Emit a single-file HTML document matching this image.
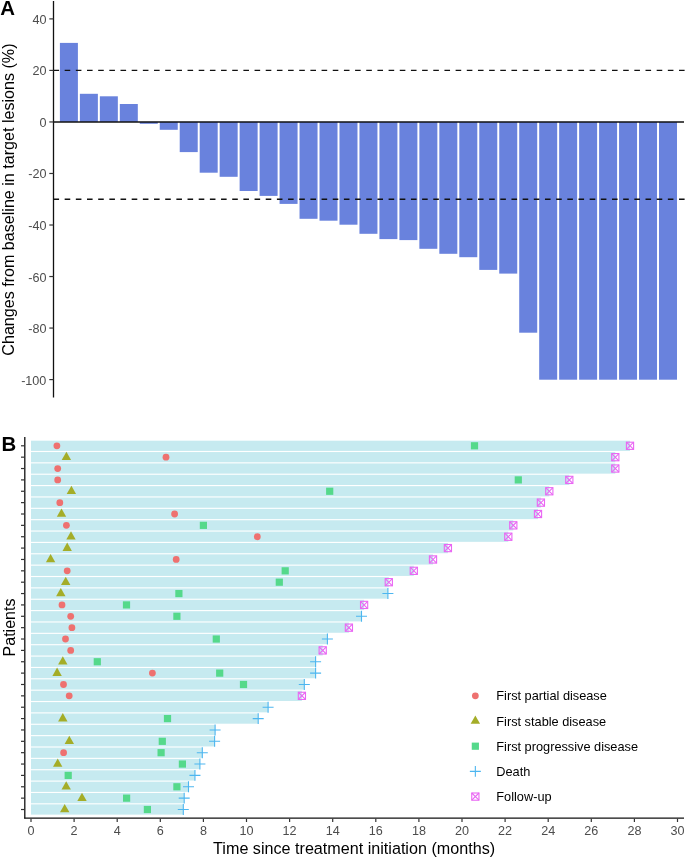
<!DOCTYPE html><html><head><meta charset="utf-8"><style>html,body{margin:0;padding:0;background:#fff;}svg{display:block;will-change:transform;}text{font-family:"Liberation Sans",sans-serif;}</style></head><body>
<svg width="685" height="858" viewBox="0 0 685 858">
<rect width="685" height="858" fill="#fff"/>
<rect x="59.90" y="42.90" width="18.0" height="79.05" fill="#6982DD"/>
<rect x="79.87" y="93.80" width="18.0" height="28.15" fill="#6982DD"/>
<rect x="99.84" y="96.30" width="18.0" height="25.65" fill="#6982DD"/>
<rect x="119.81" y="104.00" width="18.0" height="17.95" fill="#6982DD"/>
<rect x="139.78" y="121.95" width="18.0" height="1.85" fill="#6982DD"/>
<rect x="159.75" y="121.95" width="18.0" height="7.85" fill="#6982DD"/>
<rect x="179.72" y="121.95" width="18.0" height="30.15" fill="#6982DD"/>
<rect x="199.69" y="121.95" width="18.0" height="50.75" fill="#6982DD"/>
<rect x="219.66" y="121.95" width="18.0" height="54.85" fill="#6982DD"/>
<rect x="239.63" y="121.95" width="18.0" height="69.05" fill="#6982DD"/>
<rect x="259.60" y="121.95" width="18.0" height="73.95" fill="#6982DD"/>
<rect x="279.57" y="121.95" width="18.0" height="81.95" fill="#6982DD"/>
<rect x="299.54" y="121.95" width="18.0" height="96.85" fill="#6982DD"/>
<rect x="319.51" y="121.95" width="18.0" height="98.75" fill="#6982DD"/>
<rect x="339.48" y="121.95" width="18.0" height="102.75" fill="#6982DD"/>
<rect x="359.45" y="121.95" width="18.0" height="111.85" fill="#6982DD"/>
<rect x="379.42" y="121.95" width="18.0" height="117.15" fill="#6982DD"/>
<rect x="399.39" y="121.95" width="18.0" height="118.15" fill="#6982DD"/>
<rect x="419.36" y="121.95" width="18.0" height="126.85" fill="#6982DD"/>
<rect x="439.33" y="121.95" width="18.0" height="131.85" fill="#6982DD"/>
<rect x="459.30" y="121.95" width="18.0" height="135.25" fill="#6982DD"/>
<rect x="479.27" y="121.95" width="18.0" height="147.95" fill="#6982DD"/>
<rect x="499.24" y="121.95" width="18.0" height="151.65" fill="#6982DD"/>
<rect x="519.21" y="121.95" width="18.0" height="210.75" fill="#6982DD"/>
<rect x="539.18" y="121.95" width="18.0" height="257.75" fill="#6982DD"/>
<rect x="559.15" y="121.95" width="18.0" height="257.75" fill="#6982DD"/>
<rect x="579.12" y="121.95" width="18.0" height="257.75" fill="#6982DD"/>
<rect x="599.09" y="121.95" width="18.0" height="257.75" fill="#6982DD"/>
<rect x="619.06" y="121.95" width="18.0" height="257.75" fill="#6982DD"/>
<rect x="639.03" y="121.95" width="18.0" height="257.75" fill="#6982DD"/>
<rect x="659.00" y="121.95" width="18.0" height="257.75" fill="#6982DD"/>
<line x1="53.5" y1="122.05" x2="684" y2="122.05" stroke="#111" stroke-width="1.6"/>
<line x1="53.5" y1="70.42" x2="685" y2="70.42" stroke="#111" stroke-width="1.3" stroke-dasharray="5.585 5.585"/>
<line x1="53.5" y1="199.24" x2="685" y2="199.24" stroke="#111" stroke-width="1.3" stroke-dasharray="5.585 5.585"/>
<line x1="53.5" y1="1" x2="53.5" y2="397.4" stroke="#111" stroke-width="1.3"/>
<line x1="49.3" y1="18.89" x2="53.5" y2="18.89" stroke="#333" stroke-width="1.2"/>
<text x="46.4" y="23.89" font-size="12.6" fill="#4D4D4D" text-anchor="end">40</text>
<line x1="49.3" y1="70.42" x2="53.5" y2="70.42" stroke="#333" stroke-width="1.2"/>
<text x="46.4" y="75.42" font-size="12.6" fill="#4D4D4D" text-anchor="end">20</text>
<line x1="49.3" y1="121.95" x2="53.5" y2="121.95" stroke="#333" stroke-width="1.2"/>
<text x="46.4" y="126.95" font-size="12.6" fill="#4D4D4D" text-anchor="end">0</text>
<line x1="49.3" y1="173.48" x2="53.5" y2="173.48" stroke="#333" stroke-width="1.2"/>
<text x="46.4" y="178.48" font-size="12.6" fill="#4D4D4D" text-anchor="end">-20</text>
<line x1="49.3" y1="225.01" x2="53.5" y2="225.01" stroke="#333" stroke-width="1.2"/>
<text x="46.4" y="230.01" font-size="12.6" fill="#4D4D4D" text-anchor="end">-40</text>
<line x1="49.3" y1="276.53" x2="53.5" y2="276.53" stroke="#333" stroke-width="1.2"/>
<text x="46.4" y="281.53" font-size="12.6" fill="#4D4D4D" text-anchor="end">-60</text>
<line x1="49.3" y1="328.06" x2="53.5" y2="328.06" stroke="#333" stroke-width="1.2"/>
<text x="46.4" y="333.06" font-size="12.6" fill="#4D4D4D" text-anchor="end">-80</text>
<line x1="49.3" y1="379.59" x2="53.5" y2="379.59" stroke="#333" stroke-width="1.2"/>
<text x="46.4" y="384.59" font-size="12.6" fill="#4D4D4D" text-anchor="end">-100</text>
<text transform="translate(14.2,199.6) rotate(-90)" font-size="16.1" fill="#000" text-anchor="middle">Changes from baseline in target lesions (%)</text>
<text x="0.2" y="15.2" font-size="20.4" font-weight="bold" fill="#000">A</text>
<rect x="31.0" y="440.69" width="599.00" height="10.23" fill="#C6EAF0"/>
<rect x="31.0" y="452.05" width="584.30" height="10.23" fill="#C6EAF0"/>
<rect x="31.0" y="463.42" width="584.30" height="10.23" fill="#C6EAF0"/>
<rect x="31.0" y="474.78" width="538.30" height="10.23" fill="#C6EAF0"/>
<rect x="31.0" y="486.15" width="518.30" height="10.23" fill="#C6EAF0"/>
<rect x="31.0" y="497.51" width="509.90" height="10.23" fill="#C6EAF0"/>
<rect x="31.0" y="508.88" width="507.00" height="10.23" fill="#C6EAF0"/>
<rect x="31.0" y="520.25" width="482.30" height="10.23" fill="#C6EAF0"/>
<rect x="31.0" y="531.61" width="477.30" height="10.23" fill="#C6EAF0"/>
<rect x="31.0" y="542.98" width="416.90" height="10.23" fill="#C6EAF0"/>
<rect x="31.0" y="554.35" width="402.00" height="10.23" fill="#C6EAF0"/>
<rect x="31.0" y="565.71" width="382.80" height="10.23" fill="#C6EAF0"/>
<rect x="31.0" y="577.08" width="357.80" height="10.23" fill="#C6EAF0"/>
<rect x="31.0" y="588.44" width="356.90" height="10.23" fill="#C6EAF0"/>
<rect x="31.0" y="599.81" width="333.10" height="10.23" fill="#C6EAF0"/>
<rect x="31.0" y="611.17" width="330.50" height="10.23" fill="#C6EAF0"/>
<rect x="31.0" y="622.54" width="317.90" height="10.23" fill="#C6EAF0"/>
<rect x="31.0" y="633.91" width="296.40" height="10.23" fill="#C6EAF0"/>
<rect x="31.0" y="645.27" width="291.70" height="10.23" fill="#C6EAF0"/>
<rect x="31.0" y="656.64" width="284.60" height="10.23" fill="#C6EAF0"/>
<rect x="31.0" y="668.00" width="284.60" height="10.23" fill="#C6EAF0"/>
<rect x="31.0" y="679.37" width="273.30" height="10.23" fill="#C6EAF0"/>
<rect x="31.0" y="690.74" width="270.90" height="10.23" fill="#C6EAF0"/>
<rect x="31.0" y="702.10" width="237.10" height="10.23" fill="#C6EAF0"/>
<rect x="31.0" y="713.47" width="227.20" height="10.23" fill="#C6EAF0"/>
<rect x="31.0" y="724.84" width="184.10" height="10.23" fill="#C6EAF0"/>
<rect x="31.0" y="736.20" width="183.60" height="10.23" fill="#C6EAF0"/>
<rect x="31.0" y="747.57" width="171.30" height="10.23" fill="#C6EAF0"/>
<rect x="31.0" y="758.93" width="168.90" height="10.23" fill="#C6EAF0"/>
<rect x="31.0" y="770.30" width="163.95" height="10.23" fill="#C6EAF0"/>
<rect x="31.0" y="781.66" width="157.50" height="10.23" fill="#C6EAF0"/>
<rect x="31.0" y="793.03" width="153.20" height="10.23" fill="#C6EAF0"/>
<rect x="31.0" y="804.40" width="152.30" height="10.23" fill="#C6EAF0"/>
<circle cx="56.90" cy="445.80" r="3.4" fill="#EE7170"/>
<rect x="470.90" y="442.20" width="7.2" height="7.2" fill="#55D98B"/>
<g stroke="#E967F3" stroke-width="1.1" fill="none"><rect x="626.40" y="442.20" width="7.2" height="7.2"/><path d="M626.40 442.20L633.60 449.40M633.60 442.20L626.40 449.40"/></g>
<polygon points="61.70,459.97 71.10,459.97 66.40,451.67" fill="#A4AD28"/>
<circle cx="166.00" cy="457.17" r="3.4" fill="#EE7170"/>
<g stroke="#E967F3" stroke-width="1.1" fill="none"><rect x="611.70" y="453.57" width="7.2" height="7.2"/><path d="M611.70 453.57L618.90 460.77M618.90 453.57L611.70 460.77"/></g>
<circle cx="57.70" cy="468.53" r="3.4" fill="#EE7170"/>
<g stroke="#E967F3" stroke-width="1.1" fill="none"><rect x="611.70" y="464.93" width="7.2" height="7.2"/><path d="M611.70 464.93L618.90 472.13M618.90 464.93L611.70 472.13"/></g>
<circle cx="57.70" cy="479.90" r="3.4" fill="#EE7170"/>
<rect x="514.70" y="476.30" width="7.2" height="7.2" fill="#55D98B"/>
<g stroke="#E967F3" stroke-width="1.1" fill="none"><rect x="565.70" y="476.30" width="7.2" height="7.2"/><path d="M565.70 476.30L572.90 483.50M572.90 476.30L565.70 483.50"/></g>
<polygon points="66.70,494.06 76.10,494.06 71.40,485.76" fill="#A4AD28"/>
<rect x="326.10" y="487.66" width="7.2" height="7.2" fill="#55D98B"/>
<g stroke="#E967F3" stroke-width="1.1" fill="none"><rect x="545.70" y="487.66" width="7.2" height="7.2"/><path d="M545.70 487.66L552.90 494.86M552.90 487.66L545.70 494.86"/></g>
<circle cx="59.80" cy="502.63" r="3.4" fill="#EE7170"/>
<g stroke="#E967F3" stroke-width="1.1" fill="none"><rect x="537.30" y="499.03" width="7.2" height="7.2"/><path d="M537.30 499.03L544.50 506.23M544.50 499.03L537.30 506.23"/></g>
<polygon points="56.80,516.80 66.20,516.80 61.50,508.50" fill="#A4AD28"/>
<circle cx="174.60" cy="514.00" r="3.4" fill="#EE7170"/>
<g stroke="#E967F3" stroke-width="1.1" fill="none"><rect x="534.40" y="510.40" width="7.2" height="7.2"/><path d="M534.40 510.40L541.60 517.60M541.60 510.40L534.40 517.60"/></g>
<circle cx="66.40" cy="525.36" r="3.4" fill="#EE7170"/>
<rect x="199.80" y="521.76" width="7.2" height="7.2" fill="#55D98B"/>
<g stroke="#E967F3" stroke-width="1.1" fill="none"><rect x="509.70" y="521.76" width="7.2" height="7.2"/><path d="M509.70 521.76L516.90 528.96M516.90 521.76L509.70 528.96"/></g>
<polygon points="66.30,539.53 75.70,539.53 71.00,531.23" fill="#A4AD28"/>
<circle cx="257.30" cy="536.73" r="3.4" fill="#EE7170"/>
<g stroke="#E967F3" stroke-width="1.1" fill="none"><rect x="504.70" y="533.13" width="7.2" height="7.2"/><path d="M504.70 533.13L511.90 540.33M511.90 533.13L504.70 540.33"/></g>
<polygon points="62.50,550.89 71.90,550.89 67.20,542.59" fill="#A4AD28"/>
<g stroke="#E967F3" stroke-width="1.1" fill="none"><rect x="444.30" y="544.49" width="7.2" height="7.2"/><path d="M444.30 544.49L451.50 551.69M451.50 544.49L444.30 551.69"/></g>
<polygon points="45.90,562.26 55.30,562.26 50.60,553.96" fill="#A4AD28"/>
<circle cx="176.20" cy="559.46" r="3.4" fill="#EE7170"/>
<g stroke="#E967F3" stroke-width="1.1" fill="none"><rect x="429.40" y="555.86" width="7.2" height="7.2"/><path d="M429.40 555.86L436.60 563.06M436.60 555.86L429.40 563.06"/></g>
<circle cx="67.20" cy="570.83" r="3.4" fill="#EE7170"/>
<rect x="281.60" y="567.23" width="7.2" height="7.2" fill="#55D98B"/>
<g stroke="#E967F3" stroke-width="1.1" fill="none"><rect x="410.20" y="567.23" width="7.2" height="7.2"/><path d="M410.20 567.23L417.40 574.43M417.40 567.23L410.20 574.43"/></g>
<polygon points="61.00,584.99 70.40,584.99 65.70,576.69" fill="#A4AD28"/>
<rect x="275.70" y="578.59" width="7.2" height="7.2" fill="#55D98B"/>
<g stroke="#E967F3" stroke-width="1.1" fill="none"><rect x="385.20" y="578.59" width="7.2" height="7.2"/><path d="M385.20 578.59L392.40 585.79M392.40 578.59L385.20 585.79"/></g>
<polygon points="56.10,596.36 65.50,596.36 60.80,588.06" fill="#A4AD28"/>
<rect x="175.30" y="589.96" width="7.2" height="7.2" fill="#55D98B"/>
<path d="M382.40 593.56H393.40M387.90 588.11V599.01" stroke="#4DB6F0" stroke-width="1.1" fill="none"/>
<circle cx="62.00" cy="604.92" r="3.4" fill="#EE7170"/>
<rect x="122.90" y="601.32" width="7.2" height="7.2" fill="#55D98B"/>
<g stroke="#E967F3" stroke-width="1.1" fill="none"><rect x="360.50" y="601.32" width="7.2" height="7.2"/><path d="M360.50 601.32L367.70 608.52M367.70 601.32L360.50 608.52"/></g>
<circle cx="70.70" cy="616.29" r="3.4" fill="#EE7170"/>
<rect x="173.30" y="612.69" width="7.2" height="7.2" fill="#55D98B"/>
<path d="M356.00 616.29H367.00M361.50 610.84V621.74" stroke="#4DB6F0" stroke-width="1.1" fill="none"/>
<circle cx="71.90" cy="627.66" r="3.4" fill="#EE7170"/>
<g stroke="#E967F3" stroke-width="1.1" fill="none"><rect x="345.30" y="624.06" width="7.2" height="7.2"/><path d="M345.30 624.06L352.50 631.26M352.50 624.06L345.30 631.26"/></g>
<circle cx="65.50" cy="639.02" r="3.4" fill="#EE7170"/>
<rect x="212.70" y="635.42" width="7.2" height="7.2" fill="#55D98B"/>
<path d="M321.90 639.02H332.90M327.40 633.57V644.47" stroke="#4DB6F0" stroke-width="1.1" fill="none"/>
<circle cx="70.70" cy="650.39" r="3.4" fill="#EE7170"/>
<g stroke="#E967F3" stroke-width="1.1" fill="none"><rect x="319.10" y="646.79" width="7.2" height="7.2"/><path d="M319.10 646.79L326.30 653.99M326.30 646.79L319.10 653.99"/></g>
<polygon points="58.10,664.55 67.50,664.55 62.80,656.25" fill="#A4AD28"/>
<rect x="93.70" y="658.15" width="7.2" height="7.2" fill="#55D98B"/>
<path d="M310.10 661.75H321.10M315.60 656.30V667.20" stroke="#4DB6F0" stroke-width="1.1" fill="none"/>
<polygon points="52.40,675.92 61.80,675.92 57.10,667.62" fill="#A4AD28"/>
<circle cx="152.40" cy="673.12" r="3.4" fill="#EE7170"/>
<rect x="216.10" y="669.52" width="7.2" height="7.2" fill="#55D98B"/>
<path d="M310.10 673.12H321.10M315.60 667.67V678.57" stroke="#4DB6F0" stroke-width="1.1" fill="none"/>
<circle cx="63.50" cy="684.49" r="3.4" fill="#EE7170"/>
<rect x="239.90" y="680.89" width="7.2" height="7.2" fill="#55D98B"/>
<path d="M298.80 684.49H309.80M304.30 679.04V689.94" stroke="#4DB6F0" stroke-width="1.1" fill="none"/>
<circle cx="69.20" cy="695.85" r="3.4" fill="#EE7170"/>
<g stroke="#E967F3" stroke-width="1.1" fill="none"><rect x="298.30" y="692.25" width="7.2" height="7.2"/><path d="M298.30 692.25L305.50 699.45M305.50 692.25L298.30 699.45"/></g>
<path d="M262.60 707.22H273.60M268.10 701.77V712.67" stroke="#4DB6F0" stroke-width="1.1" fill="none"/>
<polygon points="58.10,721.38 67.50,721.38 62.80,713.08" fill="#A4AD28"/>
<rect x="163.90" y="714.98" width="7.2" height="7.2" fill="#55D98B"/>
<path d="M252.70 718.58H263.70M258.20 713.13V724.03" stroke="#4DB6F0" stroke-width="1.1" fill="none"/>
<path d="M209.60 729.95H220.60M215.10 724.50V735.40" stroke="#4DB6F0" stroke-width="1.1" fill="none"/>
<polygon points="64.60,744.12 74.00,744.12 69.30,735.82" fill="#A4AD28"/>
<rect x="158.70" y="737.72" width="7.2" height="7.2" fill="#55D98B"/>
<path d="M209.10 741.32H220.10M214.60 735.87V746.77" stroke="#4DB6F0" stroke-width="1.1" fill="none"/>
<circle cx="63.60" cy="752.68" r="3.4" fill="#EE7170"/>
<rect x="157.50" y="749.08" width="7.2" height="7.2" fill="#55D98B"/>
<path d="M196.80 752.68H207.80M202.30 747.23V758.13" stroke="#4DB6F0" stroke-width="1.1" fill="none"/>
<polygon points="53.00,766.85 62.40,766.85 57.70,758.55" fill="#A4AD28"/>
<rect x="178.80" y="760.45" width="7.2" height="7.2" fill="#55D98B"/>
<path d="M194.40 764.05H205.40M199.90 758.60V769.50" stroke="#4DB6F0" stroke-width="1.1" fill="none"/>
<rect x="64.60" y="771.81" width="7.2" height="7.2" fill="#55D98B"/>
<path d="M189.45 775.41H200.45M194.95 769.96V780.86" stroke="#4DB6F0" stroke-width="1.1" fill="none"/>
<polygon points="61.50,789.58 70.90,789.58 66.20,781.28" fill="#A4AD28"/>
<rect x="173.30" y="783.18" width="7.2" height="7.2" fill="#55D98B"/>
<path d="M183.00 786.78H194.00M188.50 781.33V792.23" stroke="#4DB6F0" stroke-width="1.1" fill="none"/>
<polygon points="77.30,800.95 86.70,800.95 82.00,792.65" fill="#A4AD28"/>
<rect x="123.00" y="794.55" width="7.2" height="7.2" fill="#55D98B"/>
<path d="M178.70 798.15H189.70M184.20 792.70V803.60" stroke="#4DB6F0" stroke-width="1.1" fill="none"/>
<polygon points="60.00,812.31 69.40,812.31 64.70,804.01" fill="#A4AD28"/>
<rect x="143.80" y="805.91" width="7.2" height="7.2" fill="#55D98B"/>
<path d="M177.80 809.51H188.80M183.30 804.06V814.96" stroke="#4DB6F0" stroke-width="1.1" fill="none"/>
<line x1="24.8" y1="437" x2="24.8" y2="818.6" stroke="#111" stroke-width="1.3"/>
<line x1="24.2" y1="818.1" x2="684" y2="818.1" stroke="#111" stroke-width="1.3"/>
<line x1="21" y1="445.80" x2="24.8" y2="445.80" stroke="#333" stroke-width="1.2"/>
<line x1="21" y1="457.17" x2="24.8" y2="457.17" stroke="#333" stroke-width="1.2"/>
<line x1="21" y1="468.53" x2="24.8" y2="468.53" stroke="#333" stroke-width="1.2"/>
<line x1="21" y1="479.90" x2="24.8" y2="479.90" stroke="#333" stroke-width="1.2"/>
<line x1="21" y1="491.26" x2="24.8" y2="491.26" stroke="#333" stroke-width="1.2"/>
<line x1="21" y1="502.63" x2="24.8" y2="502.63" stroke="#333" stroke-width="1.2"/>
<line x1="21" y1="514.00" x2="24.8" y2="514.00" stroke="#333" stroke-width="1.2"/>
<line x1="21" y1="525.36" x2="24.8" y2="525.36" stroke="#333" stroke-width="1.2"/>
<line x1="21" y1="536.73" x2="24.8" y2="536.73" stroke="#333" stroke-width="1.2"/>
<line x1="21" y1="548.09" x2="24.8" y2="548.09" stroke="#333" stroke-width="1.2"/>
<line x1="21" y1="559.46" x2="24.8" y2="559.46" stroke="#333" stroke-width="1.2"/>
<line x1="21" y1="570.83" x2="24.8" y2="570.83" stroke="#333" stroke-width="1.2"/>
<line x1="21" y1="582.19" x2="24.8" y2="582.19" stroke="#333" stroke-width="1.2"/>
<line x1="21" y1="593.56" x2="24.8" y2="593.56" stroke="#333" stroke-width="1.2"/>
<line x1="21" y1="604.92" x2="24.8" y2="604.92" stroke="#333" stroke-width="1.2"/>
<line x1="21" y1="616.29" x2="24.8" y2="616.29" stroke="#333" stroke-width="1.2"/>
<line x1="21" y1="627.66" x2="24.8" y2="627.66" stroke="#333" stroke-width="1.2"/>
<line x1="21" y1="639.02" x2="24.8" y2="639.02" stroke="#333" stroke-width="1.2"/>
<line x1="21" y1="650.39" x2="24.8" y2="650.39" stroke="#333" stroke-width="1.2"/>
<line x1="21" y1="661.75" x2="24.8" y2="661.75" stroke="#333" stroke-width="1.2"/>
<line x1="21" y1="673.12" x2="24.8" y2="673.12" stroke="#333" stroke-width="1.2"/>
<line x1="21" y1="684.49" x2="24.8" y2="684.49" stroke="#333" stroke-width="1.2"/>
<line x1="21" y1="695.85" x2="24.8" y2="695.85" stroke="#333" stroke-width="1.2"/>
<line x1="21" y1="707.22" x2="24.8" y2="707.22" stroke="#333" stroke-width="1.2"/>
<line x1="21" y1="718.58" x2="24.8" y2="718.58" stroke="#333" stroke-width="1.2"/>
<line x1="21" y1="729.95" x2="24.8" y2="729.95" stroke="#333" stroke-width="1.2"/>
<line x1="21" y1="741.32" x2="24.8" y2="741.32" stroke="#333" stroke-width="1.2"/>
<line x1="21" y1="752.68" x2="24.8" y2="752.68" stroke="#333" stroke-width="1.2"/>
<line x1="21" y1="764.05" x2="24.8" y2="764.05" stroke="#333" stroke-width="1.2"/>
<line x1="21" y1="775.41" x2="24.8" y2="775.41" stroke="#333" stroke-width="1.2"/>
<line x1="21" y1="786.78" x2="24.8" y2="786.78" stroke="#333" stroke-width="1.2"/>
<line x1="21" y1="798.15" x2="24.8" y2="798.15" stroke="#333" stroke-width="1.2"/>
<line x1="21" y1="809.51" x2="24.8" y2="809.51" stroke="#333" stroke-width="1.2"/>
<line x1="31.00" y1="818.7" x2="31.00" y2="822.0" stroke="#333" stroke-width="1.2"/>
<text x="31.00" y="834.6" font-size="12.6" fill="#4D4D4D" text-anchor="middle">0</text>
<line x1="74.10" y1="818.7" x2="74.10" y2="822.0" stroke="#333" stroke-width="1.2"/>
<text x="74.10" y="834.6" font-size="12.6" fill="#4D4D4D" text-anchor="middle">2</text>
<line x1="117.20" y1="818.7" x2="117.20" y2="822.0" stroke="#333" stroke-width="1.2"/>
<text x="117.20" y="834.6" font-size="12.6" fill="#4D4D4D" text-anchor="middle">4</text>
<line x1="160.30" y1="818.7" x2="160.30" y2="822.0" stroke="#333" stroke-width="1.2"/>
<text x="160.30" y="834.6" font-size="12.6" fill="#4D4D4D" text-anchor="middle">6</text>
<line x1="203.40" y1="818.7" x2="203.40" y2="822.0" stroke="#333" stroke-width="1.2"/>
<text x="203.40" y="834.6" font-size="12.6" fill="#4D4D4D" text-anchor="middle">8</text>
<line x1="246.50" y1="818.7" x2="246.50" y2="822.0" stroke="#333" stroke-width="1.2"/>
<text x="246.50" y="834.6" font-size="12.6" fill="#4D4D4D" text-anchor="middle">10</text>
<line x1="289.60" y1="818.7" x2="289.60" y2="822.0" stroke="#333" stroke-width="1.2"/>
<text x="289.60" y="834.6" font-size="12.6" fill="#4D4D4D" text-anchor="middle">12</text>
<line x1="332.70" y1="818.7" x2="332.70" y2="822.0" stroke="#333" stroke-width="1.2"/>
<text x="332.70" y="834.6" font-size="12.6" fill="#4D4D4D" text-anchor="middle">14</text>
<line x1="375.80" y1="818.7" x2="375.80" y2="822.0" stroke="#333" stroke-width="1.2"/>
<text x="375.80" y="834.6" font-size="12.6" fill="#4D4D4D" text-anchor="middle">16</text>
<line x1="418.90" y1="818.7" x2="418.90" y2="822.0" stroke="#333" stroke-width="1.2"/>
<text x="418.90" y="834.6" font-size="12.6" fill="#4D4D4D" text-anchor="middle">18</text>
<line x1="462.00" y1="818.7" x2="462.00" y2="822.0" stroke="#333" stroke-width="1.2"/>
<text x="462.00" y="834.6" font-size="12.6" fill="#4D4D4D" text-anchor="middle">20</text>
<line x1="505.10" y1="818.7" x2="505.10" y2="822.0" stroke="#333" stroke-width="1.2"/>
<text x="505.10" y="834.6" font-size="12.6" fill="#4D4D4D" text-anchor="middle">22</text>
<line x1="548.20" y1="818.7" x2="548.20" y2="822.0" stroke="#333" stroke-width="1.2"/>
<text x="548.20" y="834.6" font-size="12.6" fill="#4D4D4D" text-anchor="middle">24</text>
<line x1="591.30" y1="818.7" x2="591.30" y2="822.0" stroke="#333" stroke-width="1.2"/>
<text x="591.30" y="834.6" font-size="12.6" fill="#4D4D4D" text-anchor="middle">26</text>
<line x1="634.40" y1="818.7" x2="634.40" y2="822.0" stroke="#333" stroke-width="1.2"/>
<text x="634.40" y="834.6" font-size="12.6" fill="#4D4D4D" text-anchor="middle">28</text>
<line x1="677.50" y1="818.7" x2="677.50" y2="822.0" stroke="#333" stroke-width="1.2"/>
<text x="677.50" y="834.6" font-size="12.6" fill="#4D4D4D" text-anchor="middle">30</text>
<text x="354.1" y="853.6" font-size="16.15" fill="#000" text-anchor="middle">Time since treatment initiation (months)</text>
<text transform="translate(14.8,627.5) rotate(-90)" font-size="16" fill="#000" text-anchor="middle">Patients</text>
<text x="1.4" y="451" font-size="20.4" font-weight="bold" fill="#000">B</text>
<circle cx="475.35" cy="695.80" r="3.4" fill="#EE7170"/>
<text x="496.3" y="700.40" font-size="12.75" fill="#000">First partial disease</text>
<polygon points="470.65,723.80 480.05,723.80 475.35,715.50" fill="#A4AD28"/>
<text x="496.3" y="725.60" font-size="12.75" fill="#000">First stable disease</text>
<rect x="471.75" y="742.60" width="7.2" height="7.2" fill="#55D98B"/>
<text x="496.3" y="750.80" font-size="12.75" fill="#000">First progressive disease</text>
<path d="M469.85 771.40H480.85M475.35 765.95V776.85" stroke="#4DB6F0" stroke-width="1.1" fill="none"/>
<text x="496.3" y="776.00" font-size="12.75" fill="#000">Death</text>
<g stroke="#E967F3" stroke-width="1.1" fill="none"><rect x="471.75" y="793.00" width="7.2" height="7.2"/><path d="M471.75 793.00L478.95 800.20M478.95 793.00L471.75 800.20"/></g>
<text x="496.3" y="801.20" font-size="12.75" fill="#000">Follow-up</text>
</svg></body></html>
